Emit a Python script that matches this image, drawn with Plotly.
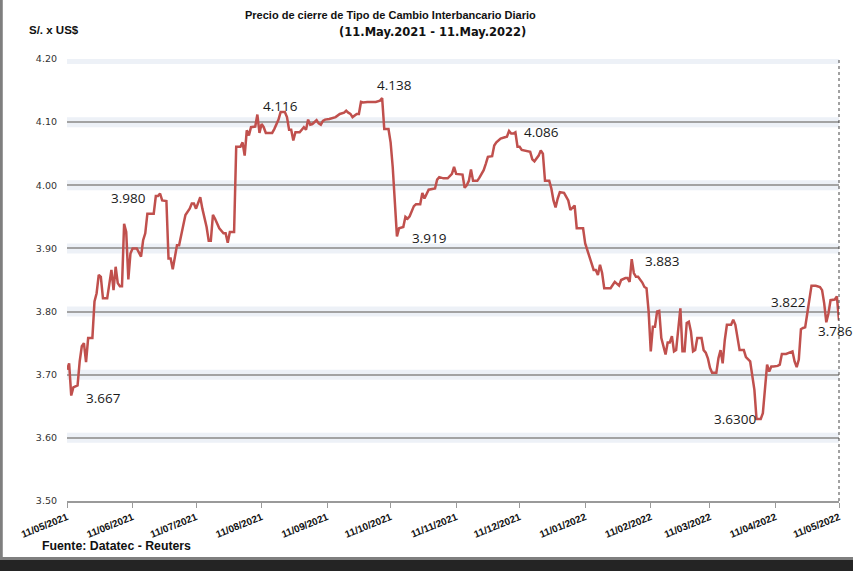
import plotly.graph_objects as go

# ---------------- data ----------------
dates = [
    "2021-05-11", "2021-05-12", "2021-05-13", "2021-05-14", "2021-05-16", "2021-05-17", "2021-05-18",
    "2021-05-19", "2021-05-20", "2021-05-21", "2021-05-23", "2021-05-24", "2021-05-25", "2021-05-26",
    "2021-05-27", "2021-05-28", "2021-05-30", "2021-06-01", "2021-06-02", "2021-06-03", "2021-06-04",
    "2021-06-05", "2021-06-06", "2021-06-07", "2021-06-08", "2021-06-09", "2021-06-10", "2021-06-11",
    "2021-06-13", "2021-06-14", "2021-06-15", "2021-06-16", "2021-06-17", "2021-06-18", "2021-06-21",
    "2021-06-22", "2021-06-23", "2021-06-24", "2021-06-25", "2021-06-27", "2021-06-28", "2021-06-29",
    "2021-06-30", "2021-07-02", "2021-07-03", "2021-07-05", "2021-07-06", "2021-07-08", "2021-07-09",
    "2021-07-10", "2021-07-11", "2021-07-13", "2021-07-14", "2021-07-16", "2021-07-17", "2021-07-18",
    "2021-07-19", "2021-07-20", "2021-07-22", "2021-07-24", "2021-07-25", "2021-07-26", "2021-07-27",
    "2021-07-29", "2021-07-30",
    "2021-08-01", "2021-08-02", "2021-08-03", "2021-08-04", "2021-08-05", "2021-08-06", "2021-08-08",
    "2021-08-09", "2021-08-10", "2021-08-11", "2021-08-12", "2021-08-13", "2021-08-16", "2021-08-17",
    "2021-08-19", "2021-08-20", "2021-08-22", "2021-08-23", "2021-08-24",
    "2021-08-25", "2021-08-26", "2021-08-27", "2021-08-29", "2021-08-30", "2021-08-31", "2021-09-01",
    "2021-09-02", "2021-09-03", "2021-09-04", "2021-09-06", "2021-09-07", "2021-09-08", "2021-09-09",
    "2021-09-10", "2021-09-12", "2021-09-15", "2021-09-16", "2021-09-17", "2021-09-19", "2021-09-20",
    "2021-09-21", "2021-09-22", "2021-09-23", "2021-09-25", "2021-09-26", "2021-09-27", "2021-09-28",
    "2021-09-30", "2021-10-04", "2021-10-06", "2021-10-07", "2021-10-08", "2021-10-10", "2021-10-11",
    "2021-10-12", "2021-10-14",
    "2021-10-15", "2021-10-17", "2021-10-18", "2021-10-19", "2021-10-20", "2021-10-22", "2021-10-23",
    "2021-10-25", "2021-10-26", "2021-10-27", "2021-10-29", "2021-10-31", "2021-11-01", "2021-11-02",
    "2021-11-03", "2021-11-05", "2021-11-07", "2021-11-09", "2021-11-10", "2021-11-11", "2021-11-14",
    "2021-11-15", "2021-11-16", "2021-11-17", "2021-11-18", "2021-11-19", "2021-11-21", "2021-11-22",
    "2021-11-24", "2021-11-25", "2021-11-26", "2021-11-28", "2021-11-29", "2021-11-30", "2021-12-02",
    "2021-12-04", "2021-12-05", "2021-12-06", "2021-12-07", "2021-12-08", "2021-12-09", "2021-12-10",
    "2021-12-11", "2021-12-12", "2021-12-14", "2021-12-16", "2021-12-17", "2021-12-18", "2021-12-20",
    "2021-12-21", "2021-12-22", "2021-12-23", "2021-12-25", "2021-12-26", "2021-12-27", "2021-12-28",
    "2021-12-29", "2021-12-30", "2022-01-01", "2022-01-03", "2022-01-04", "2022-01-05", "2022-01-06",
    "2022-01-07", "2022-01-10", "2022-01-11", "2022-01-12", "2022-01-13", "2022-01-15", "2022-01-16",
    "2022-01-17", "2022-01-18", "2022-01-19", "2022-01-20", "2022-01-23", "2022-01-24", "2022-01-25",
    "2022-01-27", "2022-01-28", "2022-01-30", "2022-01-31", "2022-02-01", "2022-02-02",
    "2022-02-03", "2022-02-04", "2022-02-05", "2022-02-07", "2022-02-08", "2022-02-09", "2022-02-10",
    "2022-02-11", "2022-02-12", "2022-02-13", "2022-02-14", "2022-02-15", "2022-02-16", "2022-02-18",
    "2022-02-19", "2022-02-20", "2022-02-21", "2022-02-22", "2022-02-23", "2022-02-25", "2022-02-26",
    "2022-02-27", "2022-02-28", "2022-03-01", "2022-03-02", "2022-03-03", "2022-03-04", "2022-03-05",
    "2022-03-07", "2022-03-08", "2022-03-09", "2022-03-10", "2022-03-11", "2022-03-12", "2022-03-14",
    "2022-03-15", "2022-03-16", "2022-03-17", "2022-03-18", "2022-03-19", "2022-03-21", "2022-03-22",
    "2022-03-23", "2022-03-24",
    "2022-03-25", "2022-03-27", "2022-03-28", "2022-03-30", "2022-03-31", "2022-04-01", "2022-04-02",
    "2022-04-04", "2022-04-05", "2022-04-06", "2022-04-07", "2022-04-08", "2022-04-09", "2022-04-10",
    "2022-04-12", "2022-04-13", "2022-04-14", "2022-04-16", "2022-04-19", "2022-04-20", "2022-04-21",
    "2022-04-22", "2022-04-23", "2022-04-24", "2022-04-25", "2022-04-26", "2022-04-27", "2022-04-28",
    "2022-04-30", "2022-05-02", "2022-05-03", "2022-05-04", "2022-05-05", "2022-05-06", "2022-05-07",
    "2022-05-08", "2022-05-09", "2022-05-10", "2022-05-11",
]

values = [
    3.708, 3.718, 3.667, 3.680, 3.683, 3.721, 3.745,
    3.750, 3.720, 3.758, 3.758, 3.816, 3.829, 3.858,
    3.855, 3.821, 3.821, 3.866, 3.834, 3.871, 3.845,
    3.840, 3.840, 3.939, 3.926, 3.851, 3.892, 3.900,
    3.900, 3.892, 3.887, 3.913, 3.924, 3.955, 3.955,
    3.983, 3.983, 3.987, 3.976, 3.975, 3.884, 3.884,
    3.867, 3.905, 3.905, 3.937, 3.953, 3.963, 3.971,
    3.971, 3.963, 3.981, 3.963, 3.934, 3.912, 3.912,
    3.953, 3.947, 3.932, 3.924, 3.924, 3.909, 3.926,
    3.926, 4.061,
    4.061, 4.068, 4.047, 4.087, 4.079, 4.092, 4.093,
    4.112, 4.083, 4.097, 4.092, 4.083, 4.083, 4.089,
    4.104, 4.116, 4.116, 4.108, 4.088,
    4.088, 4.071, 4.084, 4.084, 4.088, 4.092, 4.088,
    4.104, 4.096, 4.097, 4.103, 4.098, 4.096, 4.102,
    4.104, 4.105, 4.108, 4.110, 4.113, 4.115, 4.118,
    4.115, 4.113, 4.108, 4.113, 4.113, 4.132, 4.131,
    4.132, 4.132, 4.134, 4.138, 4.089, 4.089, 4.068,
    4.029, 3.919,
    3.932, 3.934, 3.950, 3.947, 3.951, 3.967, 3.970,
    3.970, 3.988, 3.979, 3.993, 3.995, 3.995, 4.009,
    4.013, 4.011, 4.011, 4.018, 4.029, 4.018, 4.017,
    3.996, 4.000, 4.007, 4.025, 4.007, 4.007, 4.012,
    4.024, 4.034, 4.045, 4.046, 4.063, 4.068, 4.074,
    4.076, 4.077, 4.086, 4.082, 4.082, 4.084, 4.061,
    4.061, 4.056, 4.055, 4.053, 4.041, 4.038, 4.047,
    4.055, 4.050, 4.007, 4.007, 3.995, 3.976, 3.965,
    3.979, 3.989, 3.988, 3.976, 3.961, 3.965, 3.968,
    3.932, 3.932, 3.908, 3.897, 3.889, 3.866, 3.866,
    3.858, 3.874, 3.861, 3.837, 3.837, 3.842, 3.847,
    3.841, 3.850, 3.853, 3.853, 3.847, 3.883,
    3.861, 3.855, 3.855, 3.846, 3.839, 3.837, 3.800,
    3.737, 3.776, 3.776, 3.800, 3.801, 3.758, 3.732,
    3.751, 3.751, 3.761, 3.737, 3.739, 3.805, 3.737,
    3.737, 3.782, 3.784, 3.768, 3.737, 3.739, 3.758,
    3.758, 3.739, 3.735, 3.726, 3.711, 3.703, 3.703,
    3.726, 3.739, 3.718, 3.755, 3.779, 3.779, 3.787,
    3.779, 3.760,
    3.739, 3.739, 3.728, 3.721, 3.697, 3.676, 3.630,
    3.630, 3.639, 3.682, 3.716, 3.705, 3.713, 3.713,
    3.714, 3.716, 3.733, 3.733, 3.737, 3.721, 3.712,
    3.724, 3.772, 3.774, 3.775, 3.797, 3.822, 3.841,
    3.841, 3.839, 3.834, 3.813, 3.783, 3.797, 3.818,
    3.819, 3.819, 3.824, 3.786,
]

tick_dates = [
    "2021-05-11", "2021-06-11", "2021-07-11", "2021-08-11", "2021-09-11", "2021-10-11", "2021-11-11",
    "2021-12-11", "2022-01-11", "2022-02-11", "2022-03-11", "2022-04-11", "2022-05-11",
]
tick_labels = [
    "11/05/2021", "11/06/2021", "11/07/2021", "11/08/2021", "11/09/2021", "11/10/2021", "11/11/2021",
    "11/12/2021", "11/01/2022", "11/02/2022", "11/03/2022", "11/04/2022", "11/05/2022",
]
y_ticks = [3.50, 3.60, 3.70, 3.80, 3.90, 4.00, 4.10, 4.20]

# labelled points (date of the point, label text)
label_dates = ["2021-05-13", "2021-06-24", "2021-08-20", "2021-10-07", "2021-10-14",
               "2021-12-06", "2022-02-02", "2022-04-02", "2022-04-27", "2022-05-11"]
label_texts = ["3.667", "3.980", "4.116", "4.138", "3.919",
               "4.086", "3.883", "3.6300", "3.822", "3.786"]

# ---------------- style ----------------
LINE_COLOR = "#C0504D"
# pixel offsets (xshift, yshift, xanchor) of each data label
label_offsets = [(32, -2, "center"), (-32, 0, "center"), (0, 6, "center"), (12, 13, "center"),
                 (32, -2, "center"), (32, -1, "center"), (30, -2, "center"), (-22, 0, "center"),
                 (-21, -4, "center"), (-23, -11, "left")]

fig = go.Figure()
fig.add_trace(go.Scatter(
    x=dates, y=values, mode="lines",
    line=dict(color=LINE_COLOR, width=2.5),
    hoverinfo="x+y", showlegend=False,
))

annotations = []
for d, t, (xs, ys, xa) in zip(label_dates, label_texts, label_offsets):
    annotations.append(dict(
        x=d, y=float(t), xref="x", yref="y", text=t, showarrow=False,
        xshift=xs, yshift=ys, xanchor=xa, yanchor="middle",
        font=dict(family="Open Sans", size=13.5, color="#1a1a1a"),
    ))

annotations += [
    dict(x=0.4184, y=1.0995, xref="paper", yref="paper", showarrow=False,
         text="Precio de cierre de Tipo de Cambio Interbancario Diario",
         xanchor="center", yanchor="middle",
         font=dict(family="Liberation Sans", size=11, color="#111111", weight="bold")),
    dict(x=0.4728, y=1.0611, xref="paper", yref="paper", showarrow=False,
         text="(11.May.2021 - 11.May.2022)",
         xanchor="center", yanchor="middle",
         font=dict(family="DejaVu Sans", size=11.5, color="#111111", weight="bold")),
    dict(x=-0.0518, y=1.0656, xref="paper", yref="paper", showarrow=False,
         text="S/. x US$", xanchor="left", yanchor="middle",
         font=dict(family="Liberation Sans", size=11.5, color="#111111", weight="bold")),
    dict(x=-0.035, y=-0.1018, xref="paper", yref="paper", showarrow=False,
         text="Fuente: Datatec - Reuters", xanchor="left", yanchor="middle",
         font=dict(family="Liberation Sans", size=12.3, color="#111111", weight="bold")),
]

shapes = []
# soft shadow around gridlines
for v in y_ticks[1:]:
    shapes.append(dict(type="rect", xref="paper", x0=0, x1=1, yref="y", yanchor=v,
                       ysizemode="pixel", y0=-5, y1=5, fillcolor="rgba(215,224,238,0.45)",
                       line=dict(width=0), layer="below"))
# dotted right edge of the plot area
shapes.append(dict(type="line", xref="paper", yref="paper", x0=1, x1=1, y0=0, y1=1,
                   line=dict(color="#444444", width=1, dash="dot")))
# frame: left border, bottom border and dark band
shapes.append(dict(type="rect", xref="paper", yref="paper", x0=-0.0875, x1=-0.0832,
                   y0=-0.1267, y1=1.14, fillcolor="#7f7f7f", line=dict(width=0)))
shapes.append(dict(type="rect", xref="paper", yref="paper", x0=-0.0875, x1=1.02,
                   y0=-0.1335, y1=-0.1267, fillcolor="#7f7f7f", line=dict(width=0)))
shapes.append(dict(type="rect", xref="paper", yref="paper", x0=-0.0875, x1=1.02,
                   y0=-0.165, y1=-0.1335, fillcolor="#242424", line=dict(width=0)))

fig.update_layout(
    width=853, height=571, autosize=False,
    margin=dict(l=67, r=14, t=59, b=70, pad=0),
    paper_bgcolor="white", plot_bgcolor="rgba(0,0,0,0)",
    annotations=annotations, shapes=shapes,
    xaxis=dict(
        type="date", range=[tick_dates[0], tick_dates[-1]],
        tickvals=tick_dates, ticktext=tick_labels, tickangle=-22,
        ticks="outside", ticklen=5, tickwidth=1.2, tickcolor="#9a9a9a",
        showline=True, linecolor="#9a9a9a", linewidth=1.5,
        showgrid=False, zeroline=False,
        tickfont=dict(family="Liberation Sans", size=10, color="#111111", weight="bold"),
    ),
    yaxis=dict(
        range=[y_ticks[0], y_ticks[-1]], tickvals=y_ticks, tickformat=".2f",
        showgrid=True, gridcolor="#a3a3a3", gridwidth=1.5,
        zeroline=False, showline=False, ticks="", ticklabelstandoff=9,
        tickfont=dict(family="DejaVu Sans", size=9.5, color="#333333"),
    ),
)

fig.write_html("out.html")
